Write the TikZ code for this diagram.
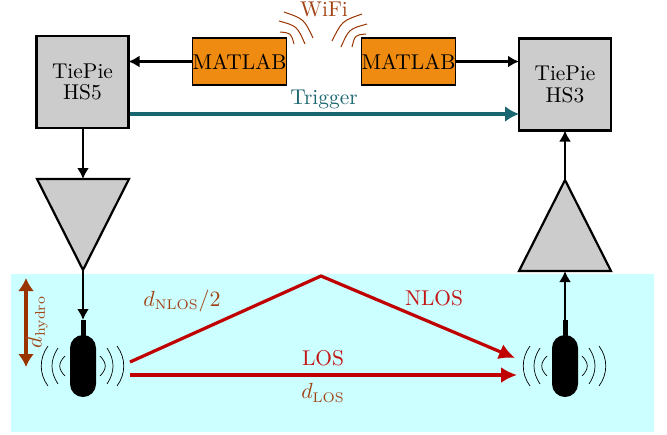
\documentclass[tikz,border=0pt]{standalone}
\usetikzlibrary{arrows.meta,shapes.geometric}
\definecolor{water}{HTML}{CCFFFF}
\definecolor{boxgray}{HTML}{CCCCCC}
\definecolor{orangebox}{HTML}{EE8B10}
\definecolor{teal1}{HTML}{1A6670}
\definecolor{red1}{HTML}{C00000}
\definecolor{brown1}{HTML}{993300}
\begin{document}
\begin{tikzpicture}[x=0.5pt,y=-0.5pt,font=\fontsize{10.7}{10.7}\selectfont,
  devbox/.style={draw=black,line width=1.1pt,fill=boxgray,minimum width=46pt,minimum height=46pt,inner sep=0pt,outer sep=0pt,align=center},
  matbox/.style={draw=black,line width=0.7pt,fill=orangebox,minimum width=46.5pt,minimum height=23.5pt,inner sep=0pt,outer sep=0pt},
  amp/.style={draw=black,line width=1.1pt,fill=boxgray,isosceles triangle,isosceles triangle stretches,minimum width=46pt,minimum height=45.5pt,inner sep=0pt,outer sep=0pt,anchor=apex},
  wire/.style={draw=black,line width=1.1pt,-{Latex[length=5.5pt,width=6pt]}},
  trig/.style={draw=teal1,line width=1.8pt,-{Latex[length=7pt,width=8pt]}},
  ray/.style={draw=red1,line width=1.6pt,-{Latex[length=8pt,width=8pt]}},
  span/.style={draw=brown1,line width=1.6pt,{Latex[length=6.5pt,width=8pt]}-{Latex[length=6.5pt,width=8pt]}},
  body/.style={fill=black,rounded corners=6.5pt,minimum width=13pt,minimum height=31pt,inner sep=0pt,outer sep=0pt},
  stem/.style={fill=black,minimum width=2.5pt,minimum height=8pt,inner sep=0pt,outer sep=0pt},
  wave/.style={draw=black,line width=0.35pt},
  wifi/.style={draw=brown1,line width=0.5pt},
  tealtxt/.style={text=teal1,inner sep=0pt},
  redtxt/.style={text=red1!92!white,inner sep=0pt},
  browntxt/.style={text=brown1!92!white,inner sep=0pt},
  waves/.pic={
    \draw[wave] (-18,-10) .. controls (-25,-3) and (-25,3) .. (-18,10);
    \draw[wave] (-25,-18) .. controls (-33,-6) and (-33,6) .. (-25,18);
    \draw[wave] (-35,-20) .. controls (-44,-8) and (-44,8) .. (-35,20);
    \draw[wave] (17,-10) .. controls (24,-3) and (24,3) .. (17,10);
    \draw[wave] (24,-18) .. controls (32,-6) and (32,6) .. (24,18);
    \draw[wave] (34,-20) .. controls (43,-8) and (43,8) .. (34,20);
  }
]
\useasboundingbox (0,0) rectangle (667,434);
\fill[water] (11,274) rectangle (654,432);

\node[devbox] (hsfive) at (82.5,82) {TiePie\\[0pt]HS5};
\node[devbox] (hsthree) at (565,84.5) {TiePie\\[0pt]HS3};
\node[matbox] (matL) at (239.5,61.5) {MATLAB};
\node[matbox] (matR) at (408.5,61.5) {MATLAB};
\node[amp,shape border rotate=-90] (ampL) at (83,270) {};
\node[amp,shape border rotate=90] (ampR) at (565,180) {};

\node[body] (hydL) at (83,366) {};
\node[stem] (stemL) at (83,328) {};
\node[body] (hydR) at (565,366) {};
\node[stem] (stemR) at (565,328) {};
\pic at (83,366) {waves};
\pic at (565,366) {waves};

\draw[wire] (matL.west) -- (hsfive.east |- matL.west);
\draw[wire] (matR.east) -- (hsthree.west |- matR.east);
\coordinate (trigS) at (130,114);
\draw[trig] (trigS) -- (hsthree.west |- trigS);
\draw[wire] (hsfive.south -| ampL.apex) -- (ampL.lower side);
\draw[wire] (ampL.apex) -- (stemL.north);
\draw[wire] (stemR.north) -- (ampR.lower side);
\draw[wire] (ampR.apex) -- (hsthree.south);

\coordinate (nlosA) at (130,362);
\coordinate (nlosB) at (321,276);
\coordinate (nlosC) at (515,358);
\coordinate (losA) at (130,375);
\coordinate (losB) at (517,375);
\draw[ray,line join=miter] (nlosA) -- (nlosB) -- (nlosC);
\draw[ray] (losA) -- (losB);

\coordinate (spanT) at (26,278);
\coordinate (spanB) at (26,367);
\draw[span] (spanT) -- (spanB);

\draw[wifi] (284,12) .. controls (304,19) .. (313,38);
\draw[wifi] (279,21) .. controls (297,26) .. (305,44);
\draw[wifi] (280,32) .. controls (291,33) .. (294,44);
\draw[wifi] (362,14) .. controls (342,21) .. (332,41);
\draw[wifi] (367,24) .. controls (349,29) .. (341,47);
\draw[wifi] (366,34) .. controls (355,35) .. (352,47);

\node[browntxt] (lblwifi) at (324,9) {WiFi};
\node[tealtxt] (lbltrig) at (324,99) {Trigger};
\node[redtxt] (lblnlos) at (434,298) {NLOS};
\node[redtxt] (lbllos) at (323,358) {LOS};
\node[browntxt] (lbldlos) at (323,393) {$d_{\mathrm{LOS}}$};
\node[browntxt] (lbldnlos) at (182,301) {$d_{\mathrm{NLOS}}/2$};
\node[browntxt,rotate=90] (lbldh) at (37,322) {$d_{\mathrm{hydro}}$};
\end{tikzpicture}
\end{document}
